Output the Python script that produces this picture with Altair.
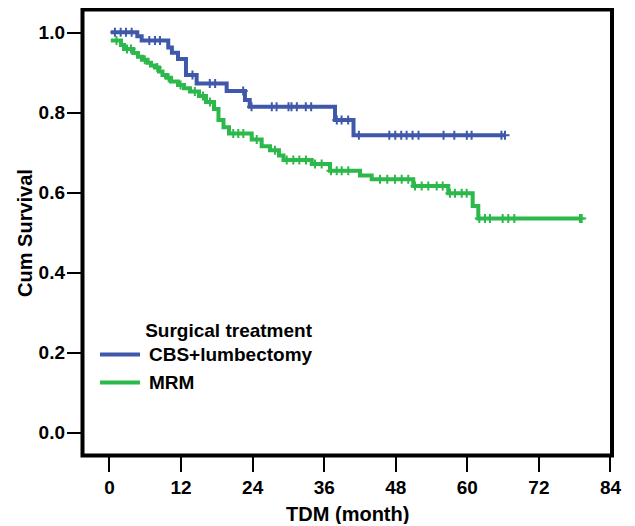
import altair as alt
import pandas as pd

# ---- data ----
groups = ["CBS+lumbectomy", "MRM"]
colors = ["#3F58AA", "#2DB84B"]

blue_t = [0.3, 4.75, 5.48, 9.94, 10.55, 11.57, 12.91, 14.7, 19.73, 22.8, 23.6, 37.9, 41.0]
blue_s = [1.0, 0.990, 0.979, 0.962, 0.949, 0.933, 0.893, 0.872, 0.853, 0.831, 0.814, 0.781, 0.743]
blue_end = 66.4
blue_cens = [1.0, 1.96, 2.85, 3.8, 6.76, 7.71, 8.55, 14.0, 16.9, 17.8, 22.5, 23.9,
             27.3, 28.1, 30.1, 30.6, 31.5, 33.0, 33.9, 38.2, 39.0, 40.1, 41.9, 47.0,
             48.0, 49.0, 49.9, 50.9, 51.9, 56.1, 57.9, 60.0, 60.8, 65.8, 66.4]

green_t = [0.3, 2.01, 2.52, 4.07, 4.86, 5.53, 6.46, 7.04, 7.71, 8.38, 8.97, 9.64, 10.40,
           11.57, 12.58, 13.58, 15.09, 16.26, 17.61, 18.36, 19.20, 20.12, 23.93, 25.60,
           27.0, 28.5, 29.26, 33.99, 37.06, 42.09, 44.05, 51.02, 56.89, 60.98, 61.92]
green_s = [0.979, 0.968, 0.958, 0.948, 0.939, 0.931, 0.924, 0.917, 0.912, 0.902, 0.893,
           0.886, 0.877, 0.868, 0.860, 0.852, 0.841, 0.826, 0.808, 0.781, 0.763, 0.747,
           0.732, 0.715, 0.705, 0.692, 0.681, 0.671, 0.654, 0.642, 0.633, 0.616, 0.598,
           0.566, 0.535]
green_end = 79.26
green_cens = [1.26, 3.02, 3.69, 6.0, 8.1, 10.0, 12.0, 14.4, 15.76, 16.94, 20.84, 21.68,
              22.52, 24.77, 27.83, 29.80, 30.90, 31.91, 33.03, 34.54, 35.66, 37.22,
              38.18, 39.02, 40.12, 45.44, 46.66, 47.95, 49.08, 50.18, 51.31, 52.43,
              53.54, 54.95, 55.95, 57.17, 58.01, 59.14, 59.98, 62.09, 63.04, 63.88,
              66.01, 66.95, 67.96, 78.97, 79.26]

x_ticks = [0, 12, 24, 36, 48, 60, 72, 84]
y_ticks = [0.0, 0.2, 0.4, 0.6, 0.8, 1.0]


def step_value(ts, ss, t):
    v = ss[0]
    for ti, si in zip(ts, ss):
        if ti <= t:
            v = si
    return v


line_rows, cens_rows = [], []
for g, ts, ss, end, cens in [(groups[0], blue_t, blue_s, blue_end, blue_cens),
                             (groups[1], green_t, green_s, green_end, green_cens)]:
    for t, s in zip(ts, ss):
        line_rows.append({"group": g, "t": t, "s": s})
    line_rows.append({"group": g, "t": end, "s": ss[-1]})
    for c in cens:
        cens_rows.append({"group": g, "t": c, "s": step_value(ts, ss, c)})

lines_df = pd.DataFrame(line_rows)
cens_df = pd.DataFrame(cens_rows)

FONT = "Arial, Liberation Sans, sans-serif"

xs = alt.Scale(domain=[-4.44, 84.34], nice=False, zero=False)
ys = alt.Scale(domain=[-0.0569, 1.0567], nice=False, zero=False)
color = alt.Color(
    "group:N",
    scale=alt.Scale(domain=groups, range=colors),
    legend=alt.Legend(
        title="Surgical treatment", orient="none", legendX=15.5, legendY=312,
        symbolType="stroke", symbolSize=1600, symbolStrokeWidth=4,
        clipHeight=28, rowPadding=0, padding=0, titlePadding=0,
        titleAnchor="end", labelOffset=7, labelLimit=400, titleLimit=400,
        titleFont=FONT, titleFontSize=19, titleFontWeight="bold", titleColor="black",
        labelFont=FONT, labelFontSize=19, labelFontWeight="bold", labelColor="black",
    ),
)

x_enc = alt.X("t:Q", scale=xs, axis=alt.Axis(
    title="TDM (month)", values=x_ticks, format="d", labelPadding=7, titlePadding=7))
y_enc = alt.Y("s:Q", scale=ys, axis=alt.Axis(
    title="Cum Survival", values=y_ticks, format=".1f", labelPadding=2, titlePadding=3))

lines = alt.Chart(lines_df).mark_line(interpolate="step-after", strokeWidth=4).encode(
    x=x_enc, y=y_enc, color=color, detail="group:N")

cens = alt.Chart(cens_df).mark_point(
    shape="M-1,0H1M0,-1V1", size=81, filled=False, strokeWidth=2, opacity=1
).encode(x="t:Q", y="s:Q", color=alt.Color("group:N", scale=alt.Scale(domain=groups, range=colors), legend=None))

chart = alt.layer(lines, cens).properties(
    width=529.5, height=446,
    autosize=alt.AutoSizeParams(type="none"),
    padding={"left": 74.5, "top": 1.5, "right": 10, "bottom": 68},
).configure_view(
    stroke="black", strokeWidth=4
).configure_axis(
    grid=False, domain=False, ticks=True, tickColor="black", tickWidth=2, tickSize=16,
    labelFont=FONT, labelFontSize=19, labelFontWeight="bold", labelColor="black",
    titleFont=FONT, titleFontSize=20, titleFontWeight="bold", titleColor="black",
)

chart.save("out.html", embed_options={"renderer": "svg", "actions": False})
